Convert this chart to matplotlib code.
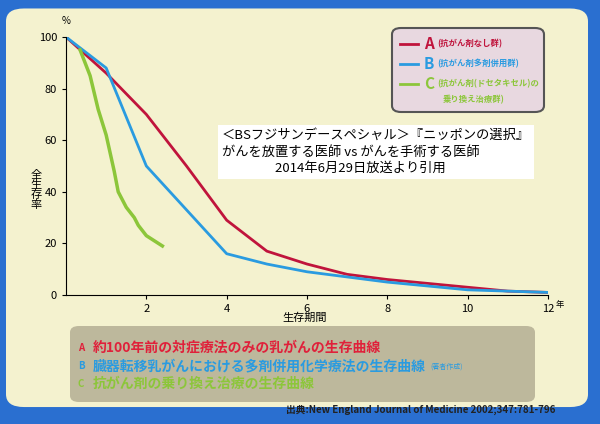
import matplotlib
matplotlib.use("Agg")
import matplotlib.pyplot as plt
from matplotlib.patches import FancyBboxPatch

plt.rcParams['font.family'] = ['Noto Sans CJK JP', 'DejaVu Sans']

a_x = [0, 1, 2, 3, 4, 5, 6, 7, 8, 9, 10, 11, 12]
a_y = [100, 86, 70, 50, 29, 17, 12, 8, 6, 4.5, 3, 1.5, 1]
b_x = [0, 1, 2, 3, 4, 5, 6, 7, 8, 10, 12]
b_y = [100, 88, 50, 33, 16, 12, 9, 7, 5, 2, 1]
c_x = [0.35, 0.6, 0.8, 1.0, 1.2, 1.3, 1.5, 1.7, 1.8, 2.0, 2.2, 2.4]
c_y = [95, 85, 72, 62, 48, 40, 34, 30, 27, 23, 21, 19]
xticks = [2, 4, 6, 8, 10, 12]
yticks = [0, 20, 40, 60, 80, 100]

fig = plt.figure(figsize=(6, 4.24), dpi=100)
fig.patch.set_facecolor('#2a6fd0')
bg = FancyBboxPatch((0.01, 0.04), 0.97, 0.94, boxstyle="round,pad=0,rounding_size=0.03",
                    transform=fig.transFigure, facecolor='#f4f2cf', edgecolor='none', zorder=-5)
fig.patches.append(bg)
ax = fig.add_axes([66/600, 1-295/424, (548-66)/600, (295-37)/424])
ax.set_zorder(2)
ax.set_facecolor('#f4f2cf')
ax.plot(a_x, a_y, color='#c0143c', lw=2)
ax.plot(b_x, b_y, color='#2a9be0', lw=2)
ax.plot(c_x, c_y, color='#8cc63a', lw=2.5)
ax.set_xlim(0, 12); ax.set_ylim(0, 100)
ax.set_xticks(xticks); ax.set_yticks(yticks)
ax.set_xticklabels(['2', '4', '6', '8', '10', '12'])
ax.tick_params(labelsize=8, length=3)
for s in ['top', 'right']:
    ax.spines[s].set_visible(False)
fig.text(556/600, 1-304/424, '年', fontsize=6, ha='left', va='center')
fig.text(66/600, 1-24/424, '%', fontsize=7, ha='center')
fig.text(36/600, 1-190/424, '全\n生\n存\n率', fontsize=8, ha='center', va='center', linespacing=1.0)
fig.text(305/600, 1-318/424, '生存期間', fontsize=8, ha='center', va='center')

# legend box
lg = FancyBboxPatch((392/600, 1-112/424), 152/600, 84/424, boxstyle="round,pad=0,rounding_size=0.015",
                    transform=fig.transFigure, facecolor='#e8d8e0', edgecolor='#555555', lw=1.5, zorder=3)
fig.patches.append(lg)
for i, (lab, col, sub) in enumerate([('A', '#c0143c', '(抗がん剤なし群)'),
                                     ('B', '#2a9be0', '(抗がん剤多剤併用群)'),
                                     ('C', '#8cc63a', '(抗がん剤(ドセタキセル)の')]):
    y = 1-(44+i*20)/424
    fig.lines.append(plt.Line2D([400/600, 418/600], [y, y], color=col, lw=2, transform=fig.transFigure, zorder=4))
    fig.text(424/600, y, lab, color=col, fontsize=11, fontweight='bold', va='center', zorder=4)
    fig.text(437/600, y, sub, color=col, fontsize=6, fontweight='bold', va='center', zorder=4)
fig.text(443/600, 1-100/424, '乗り換え治療群)', color='#8cc63a', fontsize=6, fontweight='bold', va='center', zorder=4)

# overlay citation
fig.text(222/600, 1-152/424,
         '＜BSフジサンデースペシャル＞『ニッポンの選択』\nがんを放置する医師 vs がんを手術する医師\n　　　　2014年6月29日放送より引用',
         fontsize=9.5, va='center', ha='left', linespacing=1.35, zorder=5,
         bbox=dict(facecolor='white', edgecolor='none', pad=3))

# bottom box
bb = FancyBboxPatch((70/600, 1-402/424), 465/600, 76/424, boxstyle="round,pad=0,rounding_size=0.015",
                    transform=fig.transFigure, facecolor='#bdb89c', edgecolor='none', zorder=1)
fig.patches.append(bb)
rows = [('A', '約100年前の対症療法のみの乳がんの生存曲線', '#e0203a'),
        ('B', '臓器転移乳がんにおける多剤併用化学療法の生存曲線', '#2a9be0'),
        ('C', '抗がん剤の乗り換え治療の生存曲線', '#8cc63a')]
for i, (l, t, c) in enumerate(rows):
    y = 1-(348+i*18)/424
    fig.text(78/600, y, l, color=c, fontsize=7, va='center', fontweight='bold')
    fig.text(93/600, y, t, color=c, fontsize=10, va='center', fontweight='bold')
fig.text(430/600, 1-367/424, '(著者作成)', color='#2a9be0', fontsize=5, va='center')
fig.text(555/600, 1-410/424, '出典:New England Journal of Medicine 2002;347:781-796',
         fontsize=7, ha='right', va='center', fontweight='bold', color='#222222')

fig.savefig('out.png', dpi=100)
